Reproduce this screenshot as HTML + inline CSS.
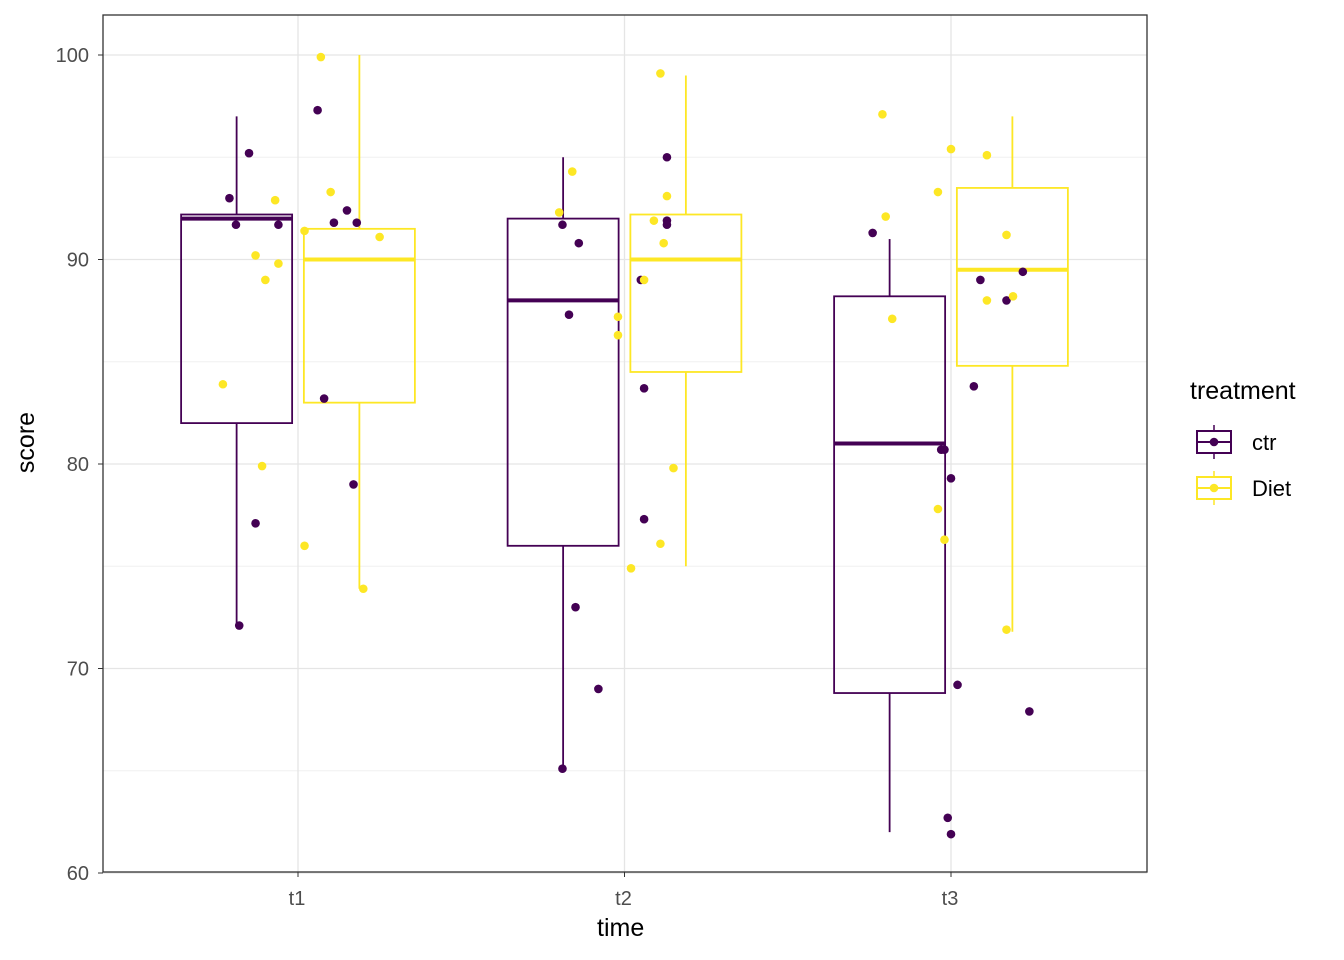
<!DOCTYPE html>
<html><head><meta charset="utf-8"><style>body{margin:0;background:#fff}svg{display:block;font-family:"Liberation Sans",sans-serif}</style></head>
<body>
<svg id="c" width="1344" height="960"></svg>
<script>
const categories=["t1","t2","t3"];
const groups=["ctr","Diet"];
const colors=["#440154","#FDE725"];
const yTicks=[60,70,80,90,100];
// box stats [lo,q1,med,q3,hi] per group per category
const ctrBoxes=[[72,82,92,92.2,97],[65,76,88,92,95],[62,68.8,81,88.2,91]];
const dietBoxes=[[73.9,83,90,91.5,100],[75,84.5,90,92.2,99],[71.8,84.8,89.5,93.5,97]];
const ctrX=[0.79,0.81,0.85,0.94,0.87,0.82,1.06,1.11,1.15,1.18,1.08,1.17,1.81,1.86,1.83,1.85,1.92,1.81,2.05,2.06,2.06,2.13,2.13,2.13,2.76,2.97,2.98,3.00,3.02,2.99,3.00,3.07,3.09,3.17,3.22,3.24];
const ctrY=[93.0,91.7,95.2,91.7,77.1,72.1,97.3,91.8,92.4,91.8,83.2,79.0,91.7,90.8,87.3,73.0,69.0,65.1,89.0,83.7,77.3,95.0,91.9,91.7,91.3,80.7,80.7,79.3,69.2,62.7,61.9,83.8,89.0,88.0,89.4,67.9];
const dietX=[0.77,0.87,0.90,0.89,0.93,0.94,1.07,1.10,1.02,1.02,1.25,1.20,1.80,1.84,1.98,1.98,2.02,2.11,2.13,2.09,2.12,2.06,2.15,2.11,2.79,2.80,2.82,2.96,3.00,2.96,2.98,3.11,3.11,3.19,3.17,3.17];
const dietY=[83.9,90.2,89.0,79.9,92.9,89.8,99.9,93.3,91.4,76.0,91.1,73.9,92.3,94.3,87.2,86.3,74.9,99.1,93.1,91.9,90.8,89.0,79.8,76.1,97.1,92.1,87.1,93.3,95.4,77.8,76.3,95.1,88.0,88.2,91.2,71.9];
const NS="http://www.w3.org/2000/svg",svg=document.getElementById('c');
const L=103,R=1147,T=15,B=872;
const y=v=>873-(v-60)*20.45;
const x=v=>298+(v-1)*326.5;
function mk(t,a,p){const e=document.createElementNS(NS,t);for(const k in a)e.setAttribute(k,a[k]);(p||svg).appendChild(e);return e;}
for(let v=65;v<=95;v+=10){const e=mk('line',{x1:L,x2:R,y1:y(v),y2:y(v),stroke:'#f0f0f0','stroke-width':1});

}
yTicks.forEach(v=>{const e=mk('line',{x1:L,x2:R,y1:y(v),y2:y(v),stroke:'#e5e5e5','stroke-width':1.3});


mk('line',{x1:L-5,x2:L,y1:y(v),y2:y(v),stroke:'#333'});
const t=mk('text',{x:L-14,y:y(v)+7,'text-anchor':'end','font-size':20,fill:'#4d4d4d'});t.textContent=v;

});
categories.forEach((c,i)=>{const e=mk('line',{x1:x(i+1),x2:x(i+1),y1:T,y2:B,stroke:'#e5e5e5','stroke-width':1.3});


mk('line',{x1:x(i+1),x2:x(i+1),y1:B,y2:B+5,stroke:'#333'});
const t=mk('text',{x:x(i+1)-1,y:B+33,'text-anchor':'middle','font-size':20,fill:'#4d4d4d'});t.textContent=c;

});
const off=0.188,hw=0.17;
[ctrBoxes,dietBoxes].forEach((bx,g)=>{bx.forEach((s,i)=>{const cx=i+1+(g?off:-off);const gg=mk('g',{});


const col=colors[g];
mk('line',{x1:x(cx),x2:x(cx),y1:y(s[0]),y2:y(s[1]),stroke:col,'stroke-width':1.8},gg);
mk('line',{x1:x(cx),x2:x(cx),y1:y(s[3]),y2:y(s[4]),stroke:col,'stroke-width':1.8},gg);
mk('rect',{x:x(cx-hw),y:y(s[3]),width:x(cx+hw)-x(cx-hw),height:y(s[1])-y(s[3]),fill:'none',stroke:col,'stroke-width':1.8},gg);
mk('line',{x1:x(cx-hw),x2:x(cx+hw),y1:y(s[2]),y2:y(s[2]),stroke:col,'stroke-width':4},gg);});});
[[ctrX,ctrY],[dietX,dietY]].forEach((d,g)=>{d[0].forEach((xv,k)=>{const p=mk('circle',{cx:x(xv),cy:y(d[1][k]),r:4.3,fill:colors[g]});

});});
mk('rect',{x:L,y:T,width:R-L,height:B-T,fill:'none',stroke:'#333','stroke-width':1.3});
</script>
<div style="position:absolute;left:0;top:0;width:1344px;height:960px;pointer-events:none">
<div style="position:absolute;left:597px;top:914px;font:25px 'Liberation Sans',sans-serif">time</div>
<div style="position:absolute;left:-4px;top:428px;transform:rotate(-90deg);font:25px 'Liberation Sans',sans-serif">score</div>
<div style="position:absolute;left:1190px;top:377px;font:25px 'Liberation Sans',sans-serif">
<div>treatment</div>
<svg width="150" height="100" style="position:absolute;left:0;top:42px">
<g><line x1="24" x2="24" y1="6" y2="40" stroke="#440154" stroke-width="1.5"/><rect x="7" y="12" width="34" height="22" fill="#fff" stroke="#440154" stroke-width="2"/><line x1="7" x2="41" y1="23" y2="23" stroke="#440154" stroke-width="2"/><circle cx="24" cy="23" r="4.3" fill="#440154"/><text x="62" y="31" font-size="22">ctr</text></g>
<g><line x1="24" x2="24" y1="52" y2="86" stroke="#FDE725" stroke-width="1.5"/><rect x="7" y="58" width="34" height="22" fill="#fff" stroke="#FDE725" stroke-width="2"/><line x1="7" x2="41" y1="69" y2="69" stroke="#FDE725" stroke-width="2"/><circle cx="24" cy="69" r="4.3" fill="#FDE725"/><text x="62" y="77" font-size="22">Diet</text></g>
</svg></div></div>
</body></html>
